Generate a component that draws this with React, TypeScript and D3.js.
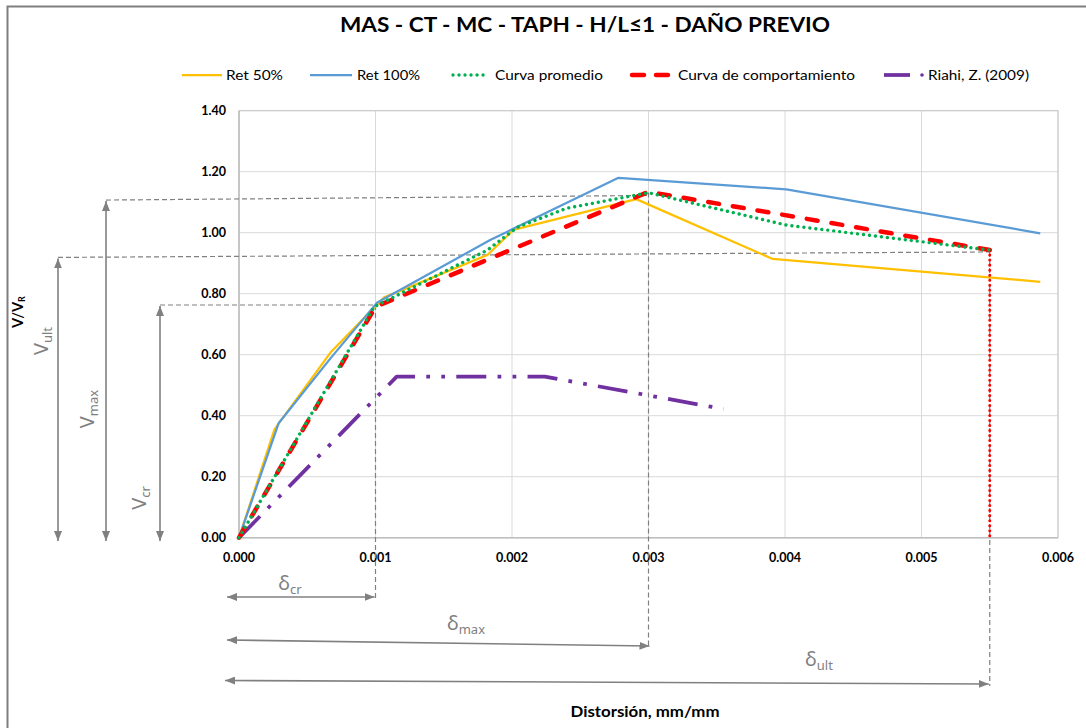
import React from "react";
import * as d3 from "d3";

// ---------- data ----------
const ret50X = [0, 0.00026, 0.00067, 0.00106, 0.00182, 0.00201, 0.00291, 0.00391, 0.00587];
const ret50Y = [0, 0.355, 0.607, 0.787, 0.927, 1.009, 1.11, 0.914, 0.839];

const ret100X = [0, 0.00029, 0.00067, 0.00101, 0.00184, 0.00278, 0.00401, 0.00587];
const ret100Y = [0, 0.375, 0.588, 0.77, 0.976, 1.18, 1.142, 0.998];

const promX = [0, 0.00099, 0.00182, 0.00204, 0.0024, 0.003, 0.00401, 0.0055];
const promY = [0, 0.757, 0.943, 1.018, 1.08, 1.131, 1.025, 0.943];

const compX = [0, 0.001, 0.00289, 0.003, 0.0055];
const compY = [0, 0.757, 1.113, 1.134, 0.943];
const compDropX = [0.0055, 0.0055];
const compDropY = [0.943, 0];

const riahiX = [0, 0.001155, 0.00224, 0.00355];
const riahiY = [0, 0.528, 0.528, 0.422];

const xTicks = [0, 0.001, 0.002, 0.003, 0.004, 0.005, 0.006];
const xTickLabels = ["0.000", "0.001", "0.002", "0.003", "0.004", "0.005", "0.006"];
const yTicks = [0, 0.2, 0.4, 0.6, 0.8, 1.0, 1.2, 1.4];
const yTickLabels = ["0.00", "0.20", "0.40", "0.60", "0.80", "1.00", "1.20", "1.40"];

const seriesNames = ["Ret 50%", "Ret 100%", "Curva promedio", "Curva de comportamiento", "Riahi, Z. (2009)"];

// characteristic points of the annotations
const deltaCr = 0.001;
const deltaMax = 0.003;
const deltaUlt = 0.0055;
const vCr = 0.763;
const vMaxLeft = 1.107;
const vMaxRight = 1.122;
const vUltLeft = 0.919;
const vUltRight = 0.937;

const title = "MAS - CT - MC - TAPH - H/L\u22641 - DAÑO PREVIO";

// ---------- styles ----------
const FONT = "Lato, 'Open Sans', 'Noto Sans', sans-serif";
const GFONT = "'Noto Sans', 'Open Sans', sans-serif";
const GRAY = "#808080";
const colors = ["#FFC000", "#5B9BD5", "#00B050", "#FF0000", "#7030A0"];

const x = d3.scaleLinear().domain([0, 0.006]).range([239, 1058]);
const y = d3.scaleLinear().domain([0, 1.4]).range([537.7, 110.7]);

const line = d3
  .line<[number, number]>()
  .x((d) => x(d[0]))
  .y((d) => y(d[1]));

const zip = (a: number[], b: number[]) => a.map((v, i) => [v, b[i]] as [number, number]);

export default function App() {
  const plotL = x(0), plotR = x(0.006), plotT = y(1.4), plotB = y(0);

  // legend layout
  const legY = 75;
  const legend = [
    { x1: 182, x2: 222, tx: 226, tw: 57 },
    { x1: 310, x2: 352, tx: 357, tw: 63 },
    { x1: 453, x2: 488, tx: 495, tw: 108 },
    { x1: 632, x2: 669, tx: 678, tw: 177 },
    { x1: 884, x2: 924, tx: 928, tw: 101 },
  ];
  const seriesStyles: any[] = [
    { stroke: colors[0], strokeWidth: 2.25 },
    { stroke: colors[1], strokeWidth: 2.25 },
    { stroke: colors[2], strokeWidth: 3.4, strokeDasharray: "0.01 6", strokeLinecap: "round" },
    { stroke: colors[3], strokeWidth: 4.5, strokeDasharray: "11 14", strokeLinecap: "round" },
    { stroke: colors[4], strokeWidth: 3.75, strokeDasharray: "30 11.25 3.75 11.25 3.75 11.25" },
  ];

  const xr = x(deltaUlt);
  const xm = x(deltaMax);
  const xc = x(deltaCr);

  return (
    <svg
      width={1086}
      height={728}
      style={{ position: "absolute", left: 0, top: 0, background: "#fff" }}
      fontFamily={FONT}
    >
      <defs>
        <marker
          id="arr"
          viewBox="0 0 10 8"
          refX={10}
          refY={4}
          markerWidth={10}
          markerHeight={8}
          markerUnits="userSpaceOnUse"
          orient="auto-start-reverse"
        >
          <path d="M0,0 L10,4 L0,8 z" fill={GRAY} />
        </marker>
      </defs>
      <rect x={0} y={0} width={1086} height={728} fill="#fff" />
      <rect x={7.5} y={6.5} width={1100} height={740} fill="none" stroke="#7f7f7f" strokeWidth={2} />

      {/* title */}
      <text x={585} y={32} textAnchor="middle" fontSize={20} fontWeight="bold" fill="#000" textLength={490} lengthAdjust="spacingAndGlyphs">
        {title}
      </text>

      {/* legend */}
      {legend.map((l, i) => (
        <g key={i}>
          {i < 4 && (
            <line x1={l.x1} x2={l.x2} y1={legY} y2={legY} {...seriesStyles[i]}
              strokeDasharray={i === 3 ? "12 12" : seriesStyles[i].strokeDasharray} />
          )}
          {i === 4 && (
            <g>
              <line x1={l.x1} x2={l.x1 + 26} y1={legY} y2={legY} stroke={colors[4]} strokeWidth={3.75} />
              <circle cx={l.x1 + 38} cy={legY} r={1.8} fill={colors[4]} />
            </g>
          )}
          <text x={l.tx} y={legY + 5} fontSize={14} fill="#000" textLength={l.tw} lengthAdjust="spacingAndGlyphs">
            {seriesNames[i]}
          </text>
        </g>
      ))}

      {/* grid */}
      {yTicks.map((t, i) => (
        <line key={"gy" + i} x1={plotL} x2={plotR} y1={y(t)} y2={y(t)} stroke="#D9D9D9" strokeWidth={1} />
      ))}
      {xTicks.map((t, i) => (
        <line key={"gx" + i} x1={x(t)} x2={x(t)} y1={plotT} y2={plotB} stroke="#D9D9D9" strokeWidth={1} />
      ))}
      <rect x={plotL} y={plotT} width={plotR - plotL} height={plotB - plotT} fill="none" stroke="#C8C8C8" strokeWidth={1} />
      <line x1={plotL} x2={plotR} y1={plotB} y2={plotB} stroke="#BFBFBF" strokeWidth={1.5} />
      <line x1={plotL} x2={plotL} y1={plotT} y2={plotB} stroke="#BFBFBF" strokeWidth={1.5} />

      {/* tick labels */}
      {yTicks.map((t, i) => (
        <text key={"ty" + i} x={226} y={y(t) + 4.5} textAnchor="end" fontSize={12.5} fontWeight="bold" fill="#000">
          {yTickLabels[i]}
        </text>
      ))}
      {xTicks.map((t, i) => (
        <text key={"tx" + i} x={x(t)} y={562} textAnchor="middle" fontSize={12.5} fontWeight="bold" fill="#000">
          {xTickLabels[i]}
        </text>
      ))}

      {/* axis titles */}
      <text x={645} y={717} textAnchor="middle" fontSize={14.5} fontWeight="bold" fill="#000" textLength={149} lengthAdjust="spacingAndGlyphs">
        Distorsión, mm/mm
      </text>
      <text transform="translate(23,312) rotate(-90)" textAnchor="middle" fontSize={14.5} fontWeight="bold" fill="#000">
        V/V<tspan fontSize={9} dy={2}>R</tspan>
      </text>

      {/* annotation dashed guides */}
      <g stroke={GRAY} strokeWidth={1.2} strokeDasharray="5 3" fill="none">
        <line x1={106} y1={y(vMaxLeft)} x2={xm} y2={y(vMaxRight)} />
        <line x1={58} y1={y(vUltLeft)} x2={xr} y2={y(vUltRight)} />
        <line x1={160} y1={y(vCr)} x2={xc} y2={y(vCr)} />
        <line x1={xc} y1={y(vCr)} x2={xc} y2={600} />
        <line x1={xm} y1={y(vMaxRight) - 3} x2={xm} y2={648} />
        <line x1={xr} y1={y(vUltRight)} x2={xr} y2={686} />
      </g>

      {/* annotation arrows */}
      <g stroke={GRAY} strokeWidth={1.6} fill="none">
        <line x1={58} y1={y(vUltLeft) + 1} x2={58} y2={541} markerStart="url(#arr)" markerEnd="url(#arr)" />
        <line x1={106} y1={y(vMaxLeft) + 1} x2={106} y2={541} markerStart="url(#arr)" markerEnd="url(#arr)" />
        <line x1={160} y1={y(vCr) + 1} x2={160} y2={541} markerStart="url(#arr)" markerEnd="url(#arr)" />
        <line x1={227} y1={597} x2={xc - 1} y2={597} markerStart="url(#arr)" markerEnd="url(#arr)" />
        <line x1={227} y1={640} x2={xm + 1} y2={646} markerStart="url(#arr)" markerEnd="url(#arr)" />
        <line x1={225} y1={680.5} x2={xr - 1} y2={684} markerStart="url(#arr)" markerEnd="url(#arr)" />
      </g>

      {/* annotation labels */}
      <g fill={GRAY} fontFamily={GFONT}>
        <text transform="translate(48,341) rotate(-90)" textAnchor="middle" fontSize={20}>
          V<tspan fontSize={13} dy={4}>ult</tspan>
        </text>
        <text transform="translate(94,409) rotate(-90)" textAnchor="middle" fontSize={20}>
          V<tspan fontSize={13} dy={4}>max</tspan>
        </text>
        <text transform="translate(146,498) rotate(-90)" textAnchor="middle" fontSize={20}>
          V<tspan fontSize={13} dy={4}>cr</tspan>
        </text>
        <text x={290} y={590} textAnchor="middle" fontSize={20}>
          δ<tspan fontSize={13} dy={4}>cr</tspan>
        </text>
        <text x={466} y={630} textAnchor="middle" fontSize={20}>
          δ<tspan fontSize={13} dy={4}>max</tspan>
        </text>
        <text x={819} y={666} textAnchor="middle" fontSize={20}>
          δ<tspan fontSize={13} dy={4}>ult</tspan>
        </text>
      </g>

      {/* series */}
      <path d={line(zip(ret50X, ret50Y)) || ""} fill="none" {...seriesStyles[0]} strokeLinejoin="round" />
      <path d={line(zip(ret100X, ret100Y)) || ""} fill="none" {...seriesStyles[1]} strokeLinejoin="round" />
      <path d={line(zip(riahiX, riahiY)) || ""} fill="none" {...seriesStyles[4]} strokeLinejoin="round" />
      <path d={line(zip(compX, compY)) || ""} fill="none" {...seriesStyles[3]} strokeLinejoin="round" />
      <path d={line(zip(compDropX, compDropY)) || ""} fill="none" stroke={colors[3]} strokeWidth={3} strokeDasharray="0.01 5" strokeLinecap="round" />
      <path d={line(zip(promX, promY)) || ""} fill="none" {...seriesStyles[2]} strokeLinejoin="round" />
    </svg>
  );
}
